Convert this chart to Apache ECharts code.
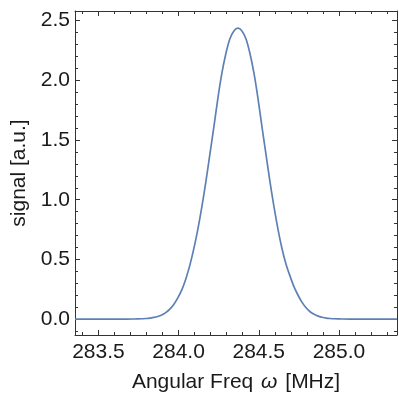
<!DOCTYPE html>
<html><head><meta charset="utf-8">
<script src="https://cdn.jsdelivr.net/npm/echarts@6/dist/echarts.min.js"></script>
<style>html,body{margin:0;padding:0;background:#fff}#c{width:399px;height:398px}</style>
</head><body><div id="c"></div>
<script>
// Frequency values (MHz)
const freq = [283.354, 283.60, 283.67, 283.72, 283.77, 283.795, 283.82, 283.845, 283.87, 283.895,
  283.92, 283.945, 283.97, 283.995, 284.02, 284.045, 284.07, 284.095, 284.12, 284.145,
  284.17, 284.195, 284.22, 284.245, 284.27, 284.295, 284.32, 284.345, 284.37, 284.395,
  284.42, 284.445, 284.47, 284.495, 284.52, 284.545, 284.57, 284.595, 284.62, 284.645,
  284.67, 284.695, 284.72, 284.745, 284.77, 284.795, 284.82, 284.845, 284.87, 284.895,
  284.92, 284.945, 284.97, 285.02, 285.07, 285.362];
// Signal values (a.u.)
const signal = [0, 0, 0, 0.001, 0.003, 0.005, 0.008, 0.014, 0.022, 0.035,
  0.054, 0.083, 0.123, 0.178, 0.245, 0.337, 0.45, 0.59, 0.752, 0.94,
  1.15, 1.38, 1.61, 1.85, 2.06, 2.225, 2.348, 2.414, 2.437, 2.414,
  2.348, 2.225, 2.06, 1.85, 1.61, 1.38, 1.15, 0.94, 0.752, 0.59,
  0.46, 0.36, 0.27, 0.20, 0.14, 0.095, 0.062, 0.04, 0.025, 0.016,
  0.009, 0.005, 0.003, 0.001, 0, 0];
const xMajorTicks = [283.5, 284.0, 284.5, 285.0];
const xMinorTicks = [283.4, 283.6, 283.7, 283.8, 283.9, 284.1, 284.2, 284.3, 284.4, 284.6, 284.7, 284.8, 284.9, 285.1, 285.2, 285.3];
const yMajorTicks = [0, 0.5, 1.0, 1.5, 2.0, 2.5];
const yMinorTicks = [-0.1, 0.1, 0.2, 0.3, 0.4, 0.6, 0.7, 0.8, 0.9, 1.1, 1.2, 1.3, 1.4, 1.6, 1.7, 1.8, 1.9, 2.1, 2.2, 2.3, 2.4];
const xRange = [283.354, 285.362];
const yRange = [-0.133, 2.581];

const FONT = '"Liberation Sans", Arial, sans-serif';
const FRAME = '#333';
const TEXT = '#1a1a1a';

function axis(dim, pos, ticks, len, opts) {
  const r = dim === 'x' ? xRange : yRange;
  return Object.assign({
    type: 'value', position: pos, min: r[0], max: r[1],
    axisLine: { show: !!opts.line, onZero: false, lineStyle: { color: FRAME, width: 1 } },
    axisTick: { show: true, inside: true, length: len, customValues: ticks, lineStyle: { color: FRAME, width: 1 } },
    axisLabel: opts.label ? {
      show: true, customValues: ticks, fontFamily: FONT, fontSize: 21, color: TEXT,
      margin: dim === 'x' ? 7 : 5,
      formatter: v => Number(v).toFixed(1)
    } : { show: false },
    splitLine: { show: false }
  }, opts.extra || {});
}

const chart = echarts.init(document.getElementById('c'), null, { renderer: 'canvas' });
chart.setOption({
  animation: false,
  backgroundColor: '#fff',
  grid: { left: 75, right: 2, top: 11, bottom: 61, containLabel: false },
  xAxis: [
    axis('x', 'bottom', xMajorTicks, 5, { line: true, label: true, extra: {
      name: 'Angular Freq {i|ω} [MHz]', nameLocation: 'middle', nameGap: 37,
      nameTextStyle: { fontFamily: FONT, fontSize: 21, color: TEXT,
        rich: { i: { fontFamily: FONT, fontSize: 21, fontStyle: 'italic', color: TEXT, padding: [0, 2, 0, 2] } } }
    } }),
    axis('x', 'bottom', xMinorTicks, 3, {}),
    axis('x', 'top', xMajorTicks, 5, { line: true }),
    axis('x', 'top', xMinorTicks, 3, {})
  ],
  yAxis: [
    axis('y', 'left', yMajorTicks, 5, { line: true, label: true, extra: {
      name: 'signal [a.u.]', nameLocation: 'middle', nameGap: 40,
      nameTextStyle: { fontFamily: FONT, fontSize: 21, color: TEXT }
    } }),
    axis('y', 'left', yMinorTicks, 3, {}),
    axis('y', 'right', yMajorTicks, 5, { line: true }),
    axis('y', 'right', yMinorTicks, 3, {})
  ],
  series: [{
    type: 'line', xAxisIndex: 0, yAxisIndex: 0,
    data: freq.map((x, i) => [x, signal[i]]),
    showSymbol: false, smooth: 0.3,
    lineStyle: { color: '#5E81B5', width: 1.7 },
    itemStyle: { color: '#5E81B5' },
    clip: true
  }]
});
</script></body></html>
